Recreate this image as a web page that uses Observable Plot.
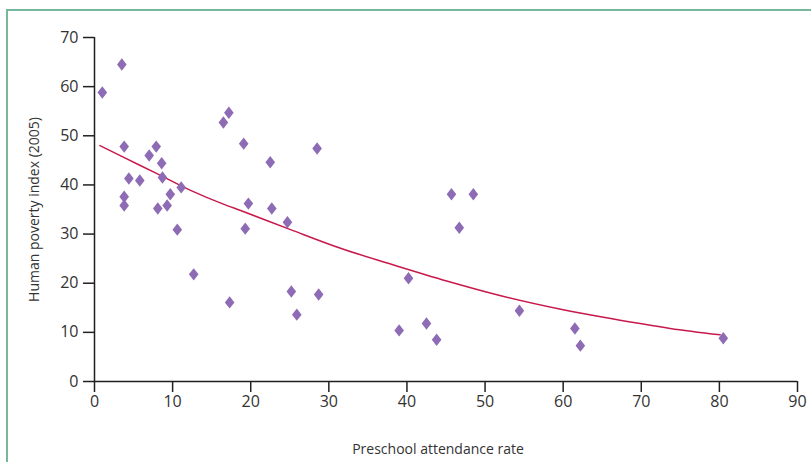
<!DOCTYPE html>
<html>
<head>
<meta charset="utf-8">
<script src="https://cdn.jsdelivr.net/npm/d3@7"></script>
<script src="https://cdn.jsdelivr.net/npm/@observablehq/plot@0.6"></script>
<style>
  html, body { margin: 0; padding: 0; background: #fff; }
  #wrap { position: relative; width: 811px; height: 462px; overflow: hidden; }
  #frame { position: absolute; left: 6px; top: 9px; right: -20px; bottom: -20px;
           border-left: 2px solid #78b89a; border-top: 2px solid #78b89a; }
  #chart { position: absolute; left: 0; top: 0; }
  #chart g[aria-label$="tick label"] { font-size: 16px; }
</style>
</head>
<body>
<div id="wrap"><div id="frame"></div><div id="chart"></div></div>
<script>
// Scatter points: preschool attendance rate (x) vs human poverty index 2005 (y)
const attendance = [1.0, 3.5, 3.8, 4.4, 3.8, 3.8, 5.8, 7.0, 7.9, 8.6, 8.7, 8.1, 9.3, 9.7, 10.6, 11.1, 12.7,
  16.5, 17.2, 17.3, 19.1, 19.7, 19.3, 22.5, 22.7, 24.7, 25.2, 25.9, 28.5, 28.7,
  39.0, 40.2, 42.5, 43.8, 45.7, 46.7, 48.5, 54.4, 61.5, 62.2, 80.5];
const poverty = [58.8, 64.5, 47.8, 41.3, 37.6, 35.8, 40.9, 46.0, 47.8, 44.4, 41.5, 35.2, 35.8, 38.1, 30.9, 39.5, 21.8,
  52.7, 54.7, 16.1, 48.4, 36.2, 31.1, 44.6, 35.2, 32.4, 18.3, 13.6, 47.4, 17.7,
  10.4, 21.0, 11.8, 8.5, 38.1, 31.3, 38.1, 14.4, 10.8, 7.3, 8.8];

// Fitted curve
const fitX = [0.7, 3.75, 8.0, 12.3, 16.5, 18.7, 25.1, 31.5, 37.9, 45.2, 52.4, 59.7, 66.1, 73.7, 80.1];
const fitY = [48.0, 45.6, 42.3, 38.9, 36.1, 34.8, 30.9, 27.1, 23.9, 20.4, 17.3, 14.7, 12.8, 10.8, 9.5];

const xTicks = [0, 10, 20, 30, 40, 50, 60, 70, 80, 90];
const yTicks = [0, 10, 20, 30, 40, 50, 60, 70];

const points = attendance.map((x, i) => ({x, y: poverty[i]}));
const fit = fitX.map((x, i) => ({x, y: fitY[i]}));

const diamond = {
  draw(ctx) {
    const w = 4.8, h = 6.2;
    ctx.moveTo(0, -h); ctx.lineTo(w, 0); ctx.lineTo(0, h); ctx.lineTo(-w, 0); ctx.closePath();
  }
};

const chart = Plot.plot({
  width: 811, height: 462,
  marginLeft: 94, marginRight: 14, marginTop: 37, marginBottom: 81,
  style: { fontFamily: "'Open Sans', sans-serif", fontSize: "15px", color: "#333", background: "transparent", overflow: "visible" },
  x: { domain: [0, 90] },
  y: { domain: [0, 70] },
  marks: [
    Plot.ruleY([0], { stroke: "#231f20", strokeWidth: 1.5 }),
    Plot.ruleX([0], { stroke: "#231f20", strokeWidth: 1.5 }),
    Plot.axisX({ ticks: xTicks, tickSize: 11, tickPadding: 3, label: null, stroke: "#231f20", strokeWidth: 1.5, fontSize: 16, fill: "#333" }),
    Plot.axisY({ ticks: yTicks, tickSize: 11, tickPadding: 5, label: null, stroke: "#231f20", strokeWidth: 1.5, fontSize: 16, fill: "#333" }),
    Plot.text(["Preschool attendance rate"], { frameAnchor: "bottom", dy: 72, dx: -8, fontSize: 14, fill: "#333" }),
    Plot.text(["Human poverty index (2005)"], { frameAnchor: "left", dx: -60, rotate: -90, textAnchor: "middle", fontSize: 14, fill: "#333" }),
    Plot.line(fit, { x: "x", y: "y", stroke: "#c8194b", strokeWidth: 1.5, curve: "monotone-x" }),
    Plot.dot(points, { x: "x", y: "y", symbol: diamond, fill: "#8e6bb5", r: 5 })
  ]
});
document.getElementById("chart").appendChild(chart);
</script>
</body>
</html>
